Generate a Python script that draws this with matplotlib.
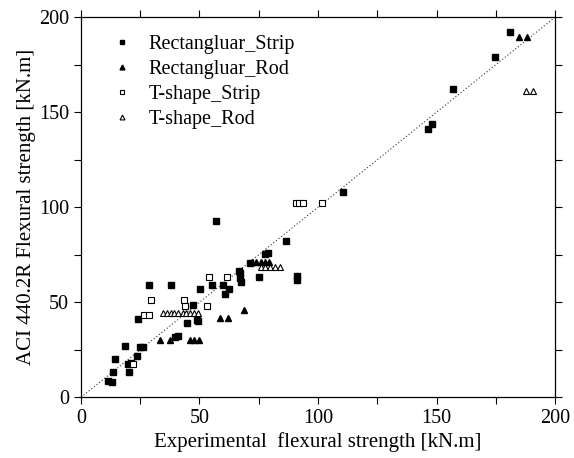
import numpy as np
import matplotlib.pyplot as plt

plt.rcParams['font.family'] = ['Liberation Serif', 'DejaVu Serif']

# Rectangular section, strip reinforcement
rs_x = [11.5, 13.2, 13.6, 14.3, 18.6, 19.7, 21.1, 20.4, 23.5, 24.9, 26.3, 24.2,
        28.7, 37.8, 39.7, 41.0, 44.9, 47.4, 48.8, 49.5, 50.2, 55.1, 57.0, 59.8,
        62.3, 60.8, 66.5, 67.0, 67.3, 67.5, 75.0, 71.3, 77.8, 79.0, 86.5, 91.0,
        91.0, 110.4, 146.4, 148.0, 156.8, 174.6, 181.0]
rs_y = [8.6, 8.2, 13.5, 20.0, 27.2, 17.4, 17.9, 13.5, 21.7, 26.3, 26.3, 41.2,
        59.1, 59.1, 31.6, 32.3, 39.0, 48.5, 40.7, 40.2, 57.0, 59.1, 92.9, 59.1,
        57.2, 54.4, 66.6, 65.3, 62.6, 60.8, 63.1, 70.9, 75.4, 75.8, 82.2, 63.8,
        61.6, 108.2, 141.0, 143.8, 162.0, 179.0, 192.3]

# Rectangular section, rod reinforcement
rr_x = [33.3, 37.6, 46.0, 47.7, 49.8, 58.6, 62.2, 68.9, 72.0, 73.8, 75.8, 77.6,
        79.4, 184.8, 188.2]
rr_y = [30.0, 30.0, 30.0, 30.0, 30.0, 41.6, 41.6, 46.0, 71.2, 71.2, 71.2, 71.2,
        71.2, 189.5, 189.5]

# T-shape section, strip reinforcement
ts_x = [21.9, 26.5, 28.9, 29.4, 43.6, 44.0, 53.3, 54.0, 61.6, 90.7, 92.1, 93.8, 101.7]
ts_y = [17.4, 43.5, 43.5, 51.0, 51.0, 48.3, 48.3, 63.5, 63.5, 102.1, 102.1, 102.1, 102.1]

# T-shape section, rod reinforcement
tr_x = [34.7, 36.2, 37.8, 39.2, 41.1, 42.9, 44.3, 46.0, 47.7, 49.3,
        75.8, 77.8, 79.8, 81.8, 83.8, 187.8, 190.7]
tr_y = [44.3, 44.3, 44.3, 44.3, 44.3, 44.3, 44.3, 44.3, 44.3, 44.3,
        68.3, 68.3, 68.3, 68.3, 68.3, 161.0, 161.0]

fig = plt.figure(figsize=(5.74, 4.58), dpi=100)
ax = fig.add_axes([0.141, 0.1325, 0.826, 0.83])

ax.plot([0, 200], [0, 200], ls=(0, (1, 2)), color='#333333', lw=0.8)
ax.plot(rs_x, rs_y, 's', ms=4.5, color='black', mec='black', label='Rectangluar_Strip')
ax.plot(rr_x, rr_y, '^', ms=5, color='black', mec='black', label='Rectangluar_Rod')
ax.plot(ts_x, ts_y, 's', ms=4, mfc='white', mec='black', mew=0.8, label='T-shape_Strip')
ax.plot(tr_x, tr_y, '^', ms=5, mfc='white', mec='black', mew=0.8, label='T-shape_Rod')

ax.set_xlim(0, 200)
ax.set_ylim(0, 200)
ax.set_xticks(np.arange(0, 201, 50))
ax.set_yticks(np.arange(0, 201, 50))
ax.set_xticks(np.arange(25, 200, 50), minor=True)
ax.set_yticks(np.arange(25, 200, 50), minor=True)
ax.tick_params(which='both', direction='out', top=True, right=True, length=5,
               width=0.8, labelsize=14.5)
for s in ax.spines.values():
    s.set_linewidth(0.9)

ax.set_xlabel('Experimental  flexural strength [kN.m]', fontsize=15, labelpad=3)
ax.set_ylabel('ACI 440.2R Flexural strength [kN.m]', fontsize=15, labelpad=2)

ax.legend(loc='upper left', bbox_to_anchor=(0.045, 0.975), frameon=False,
          fontsize=14.5, markerscale=0.7, handlelength=1.2, handletextpad=0.7,
          labelspacing=0.3, borderaxespad=0)

fig.savefig('out.png', dpi=100)
